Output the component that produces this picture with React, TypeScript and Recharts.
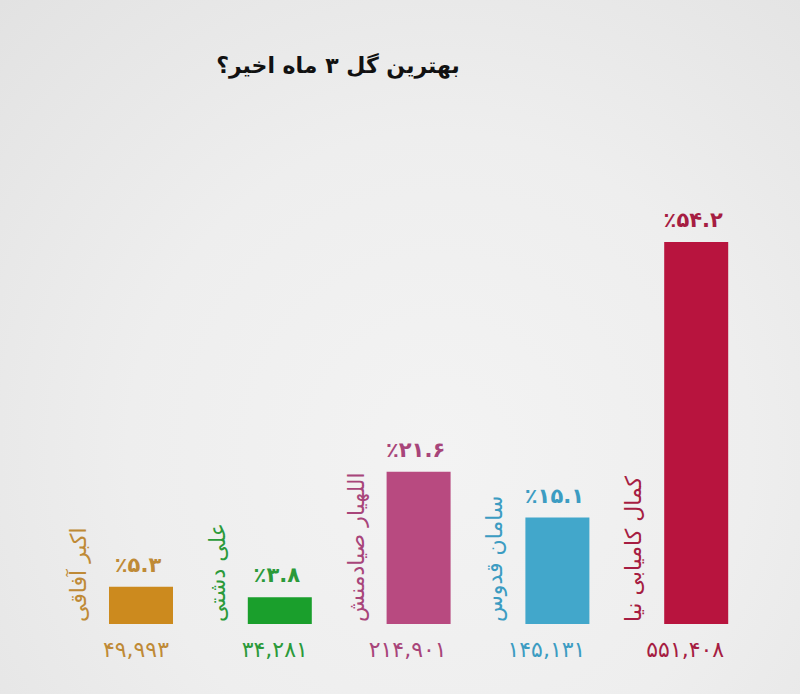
import { BarChart, Bar, XAxis, YAxis, Rectangle } from 'recharts';

const players = ['اکبر آفاقی', 'علی دشتی', 'اللهیار صیادمنش', 'سامان قدوس', 'کمال کامیابی نیا'];
const percents = [5.3, 3.8, 21.6, 15.1, 54.2];
const votes = [49993, 34281, 214901, 145131, 551408];
const barColors = ['#cc8a1e', '#1a9f2c', '#b84a80', '#42a7cb', '#b8143e'];
const textColors = ['#bf8a36', '#2b9a3a', '#a8457a', '#3c9cc2', '#a61d42'];

const title = 'بهترین گل ۳ ماه اخیر؟';

const faDigits = '۰۱۲۳۴۵۶۷۸۹';
const toFa = (s: string) => s.replace(/[0-9]/g, (d) => faDigits[Number(d)]);
const fmtVotes = (n: number) => toFa(n.toLocaleString('en-US'));
const fmtPercent = (p: number) => '٪' + toFa(p.toFixed(1));

const data = players.map((name, i) => ({
  name,
  percent: percents[i],
  votes: votes[i],
  color: barColors[i],
  textColor: textColors[i],
}));

const FONT = 'DejaVu Sans, sans-serif';

// bar + its three labels (percent on top, name rotated at left, votes under)
const BarWithLabels = (props: any) => {
  const { x, y, width, height, payload } = props;
  const bottom = y + height;
  return (
    <g>
      <Rectangle x={x} y={y} width={width} height={height} fill={payload.color} />
      <text
        x={x + width / 2 - 3}
        y={y - 15}
        textAnchor="middle"
        fill={payload.textColor}
        fontSize={21}
        fontWeight="bold"
        fontFamily={FONT}
        direction="ltr"
      >
        {fmtPercent(payload.percent)}
      </text>
      <text
        transform={`translate(${x - 23}, ${bottom - 2}) rotate(-90)`}
        textAnchor="start"
        fill={payload.textColor}
        fontSize={22}
        fontFamily={FONT}
      >
        {payload.name}
      </text>
      <text
        x={x + width - 4}
        y={bottom + 33}
        textAnchor="end"
        fill={payload.textColor}
        fontSize={22}
        fontFamily={FONT}
        direction="ltr"
      >
        {fmtVotes(payload.votes)}
      </text>
    </g>
  );
};

export default function App() {
  return (
    <div
      style={{
        position: 'absolute',
        left: 0,
        top: 0,
        width: 800,
        height: 694,
        background: 'radial-gradient(ellipse at 55% 65%, #f3f3f3 0%, #eeeeee 50%, #e2e2e2 100%)',
      }}
    >
      <BarChart
        width={800}
        height={694}
        data={data}
        margin={{ top: 201, right: 34, bottom: 70, left: 72 }}
        barCategoryGap={0}
      >
        <XAxis dataKey="name" hide />
        <YAxis domain={[0, 60]} hide />
        <Bar dataKey="percent" barSize={64} isAnimationActive={false} shape={<BarWithLabels />} />
        <text
          x={338}
          y={73}
          textAnchor="middle"
          fontSize={22}
          fontWeight="bold"
          fontFamily={FONT}
          fill="#111"
        >
          {title}
        </text>
      </BarChart>
    </div>
  );
}
